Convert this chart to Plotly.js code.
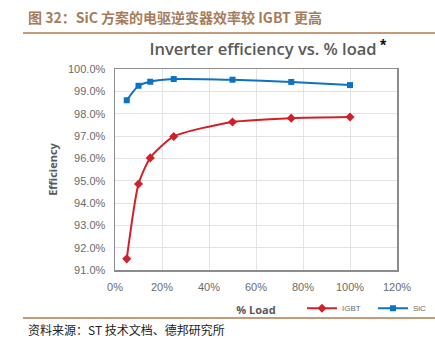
<!DOCTYPE html>
<html>
<head>
<meta charset="utf-8">
<script src="https://cdn.plot.ly/plotly-3.0.1.min.js"></script>
<style>
html,body{margin:0;padding:0;background:#fff;}
#chart{width:435px;height:352px;}
</style>
</head>
<body>
<div id="chart"></div>
<script>
const loadPct = [5, 10, 15, 25, 50, 75, 100];
const igbtEff = [91.5, 94.85, 96.02, 96.98, 97.63, 97.8, 97.85];
const sicEff = [98.6, 99.25, 99.43, 99.55, 99.52, 99.42, 99.28];
const xTicks = [0, 20, 40, 60, 80, 100, 120];
const yTicks = [91, 92, 93, 94, 95, 96, 97, 98, 99, 100];

const traces = [
  {
    x: loadPct, y: igbtEff, name: 'IGBT', type: 'scatter', mode: 'lines+markers',
    line: {color: '#D0202A', width: 2, shape: 'spline', smoothing: 0.6},
    marker: {symbol: 'diamond', size: 7, color: '#D0202A'}
  },
  {
    x: loadPct, y: sicEff, name: 'SiC', type: 'scatter', mode: 'lines+markers',
    line: {color: '#0C72C4', width: 2, shape: 'spline', smoothing: 0.6},
    marker: {symbol: 'square', size: 6, color: '#0C72C4'}
  }
];

const tickFont = {family: 'Liberation Sans, Arial, sans-serif', size: 11, color: '#6b6b6b'};

const layout = {
  width: 435, height: 352,
  margin: {l: 115, r: 38, t: 69, b: 82, autoexpand: false},
  paper_bgcolor: '#ffffff', plot_bgcolor: '#ffffff',
  title: {
    text: 'Inverter efficiency vs. % load',
    font: {family: 'Open Sans, sans-serif', size: 16.5, color: '#595959', weight: 600},
    x: 263/435, xanchor: 'center', xref: 'container',
    y: 1 - 49/352, yanchor: 'middle', yref: 'container'
  },
  xaxis: {
    range: [0, 120], tickvals: xTicks, ticktext: xTicks.map(v => v + '%'),
    showgrid: true, gridcolor: '#e3e3e3', gridwidth: 1,
    zeroline: false, showline: true, linecolor: '#8c8c8c', linewidth: 1.5, mirror: true,
    ticks: '', tickfont: tickFont, ticklabelstandoff: 6,
    title: {text: '% Load', font: {family: 'Open Sans, sans-serif', size: 11, color: '#595959', weight: 700}, standoff: 14}
  },
  yaxis: {
    range: [91, 100], tickvals: yTicks, ticktext: yTicks.map(v => v.toFixed(1) + '%'),
    showgrid: true, gridcolor: '#e3e3e3', gridwidth: 1,
    zeroline: false, showline: true, linecolor: '#8c8c8c', linewidth: 1.5, mirror: true,
    ticks: '', tickfont: tickFont, ticklabelstandoff: 6,
    title: {text: 'Efficiency', font: {family: 'Open Sans, sans-serif', size: 11, color: '#595959', weight: 700}, standoff: 8}
  },
  showlegend: true,
  legend: {
    orientation: 'h', x: (302 - 115)/282, xanchor: 'left', y: -0.19, yanchor: 'middle',
    font: {family: 'Liberation Sans, Arial, sans-serif', size: 8, color: '#6b6b6b'},
    itemwidth: 30, entrywidth: 26, tracegroupgap: 0, bgcolor: 'rgba(0,0,0,0)',
    borderwidth: 0
  },
  shapes: [
    {type: 'line', xref: 'paper', yref: 'paper', x0: -92/282, x1: 1 + 38/282, y0: (270 - 33)/201, y1: (270 - 33)/201,
     line: {color: '#C49A78', width: 2}},
    {type: 'line', xref: 'paper', yref: 'paper', x0: -92/282, x1: 1 + 38/282, y0: (270 - 318)/201, y1: (270 - 318)/201,
     line: {color: '#C49A78', width: 2}}
  ],
  annotations: [
    {text: '<b>图 32：SiC 方案的电驱逆变器效率较 IGBT 更高</b>', xref: 'paper', yref: 'paper',
     x: -89/282, xanchor: 'left', y: (270 - 17)/201, yanchor: 'middle', showarrow: false,
     font: {family: 'Noto Sans CJK SC, sans-serif', size: 14, color: '#A67C5B'}},
    {text: '<b>*</b>', xref: 'paper', yref: 'paper', x: (383 - 115)/282, xanchor: 'center',
     y: (270 - 45)/201, yanchor: 'middle', showarrow: false,
     font: {family: 'Liberation Sans, Arial, sans-serif', size: 16, color: '#111111'}},
    {text: '资料来源：ST 技术文档、德邦研究所', xref: 'paper', yref: 'paper',
     x: -89/282, xanchor: 'left', y: (270 - 329)/201, yanchor: 'middle', showarrow: false,
     font: {family: 'Noto Sans CJK SC, sans-serif', size: 12, color: '#222222'}}
  ]
};

Plotly.newPlot('chart', traces, layout, {displayModeBar: false, staticPlot: true});
</script>
</body>
</html>
